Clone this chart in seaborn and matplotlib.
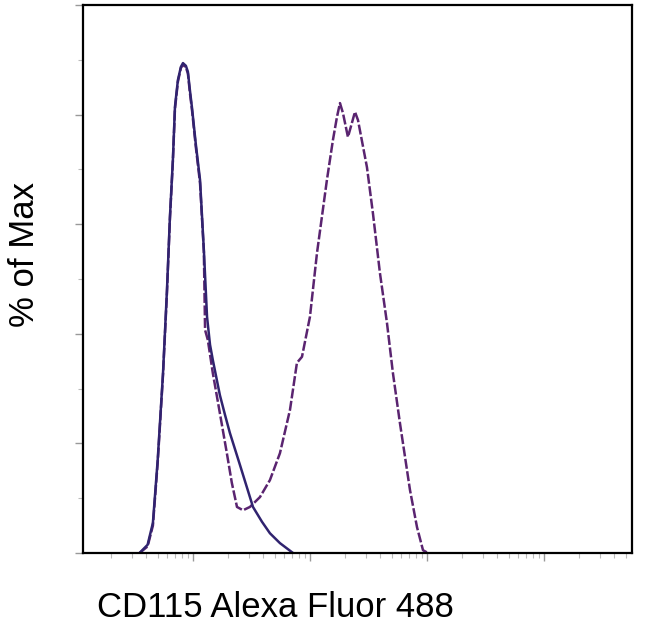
import pandas as pd
import matplotlib
matplotlib.use('Agg')
import matplotlib.pyplot as plt
import seaborn as sns
from matplotlib.ticker import LogLocator, NullFormatter, MultipleLocator

# control (isotype) histogram
ctrl_x = [35, 41, 45.5, 50, 55.5, 60, 63.6, 67.4, 70.2, 74.4, 78.9, 82.2, 87.1, 90.6, 94.2, 98,
          106, 115, 124, 132, 140, 148, 170, 188, 207, 252, 326, 389, 455, 554, 716]
ctrl_y = [0, 1.5, 5.5, 17.0, 32.8, 48.0, 61.3, 71.7, 81.4, 86.3, 88.7, 89.4, 88.9, 87.8, 84.5, 81.4,
          74.5, 68.1, 55.3, 43.1, 38.0, 35.2, 28.8, 25.2, 21.9, 16.1, 8.4, 5.7, 3.6, 1.8, 0]

# CD115 stained histogram
stain_x = [35, 41, 45.5, 50, 55.5, 60, 63.6, 67.4, 70.2, 74.4, 78.9, 82.2, 87.1, 90.6, 94.2, 98,
           106, 115, 124, 127, 134, 148, 170, 195, 215, 238, 268, 307, 374, 455, 554, 675, 774,
           855, 1000, 1148, 1397, 1573, 1703, 1805, 1914, 2112, 2285, 2425, 2573, 3070, 3453,
           3963, 4551, 5120, 5876, 7158, 8222, 9251, 10210]
stain_y = [0, 1.2, 5.0, 16.5, 32.5, 47.5, 61.0, 71.5, 81.0, 86.0, 88.5, 89.1, 88.6, 87.5, 84.0, 81.0,
           74.0, 67.5, 55.0, 40.7, 38.9, 32.8, 25.5, 18.2, 12.8, 8.4, 7.8, 8.4, 10.2, 13.3, 18.2,
           26.1, 34.7, 35.8, 43.1, 54.7, 68.1, 75.4, 79.6, 82.1, 80.3, 75.9, 78.5, 80.5, 79.0,
           70.4, 62.0, 51.1, 42.0, 32.8, 23.7, 11.5, 4.7, 0.5, 0]

ctrl = pd.DataFrame({'x': ctrl_x, 'y': ctrl_y})
stain = pd.DataFrame({'x': stain_x, 'y': stain_y})

sns.set_style('ticks')
plt.rcParams['font.family'] = ['Liberation Sans', 'DejaVu Sans']

fig = plt.figure(figsize=(6.5, 6.34), dpi=100)
ax = fig.add_axes([0.1277, 0.1278, 0.8446, 0.8643])

sns.lineplot(data=stain, x='x', y='y', ax=ax, color='#5a2470', linewidth=1.8,
             sort=False, estimator=None)
ax.lines[-1].set_dashes([4, 1])
sns.lineplot(data=ctrl, x='x', y='y', ax=ax, color='#30236f', linewidth=1.8,
             sort=False, estimator=None)

ax.set_xscale('log')
ax.set_xlim(11.5, 565000)
ax.set_ylim(0, 100)

ax.xaxis.set_major_locator(LogLocator(base=10, numticks=10))
ax.xaxis.set_minor_locator(LogLocator(base=10, subs=range(2, 10), numticks=20))
ax.xaxis.set_major_formatter(NullFormatter())
ax.xaxis.set_minor_formatter(NullFormatter())
ax.yaxis.set_major_locator(MultipleLocator(20))
ax.yaxis.set_minor_locator(MultipleLocator(10))
ax.yaxis.set_major_formatter(NullFormatter())

ax.tick_params(axis='both', which='major', length=6, width=1, color='#999999')
ax.tick_params(axis='both', which='minor', length=3.5, width=0.8, color='#bbbbbb')

for s in ax.spines.values():
    s.set_linewidth(1.6)
    s.set_color('black')

ax.set_xlabel('CD115 Alexa Fluor 488', fontsize=25, color='black', ha='left', va='center')
ax.xaxis.set_label_coords(0.025, -0.1)
ax.set_ylabel('% of Max', fontsize=25, color='black', va='center')
ax.yaxis.set_label_coords(-0.106, 0.544)

fig.savefig('out.png', dpi=100)
